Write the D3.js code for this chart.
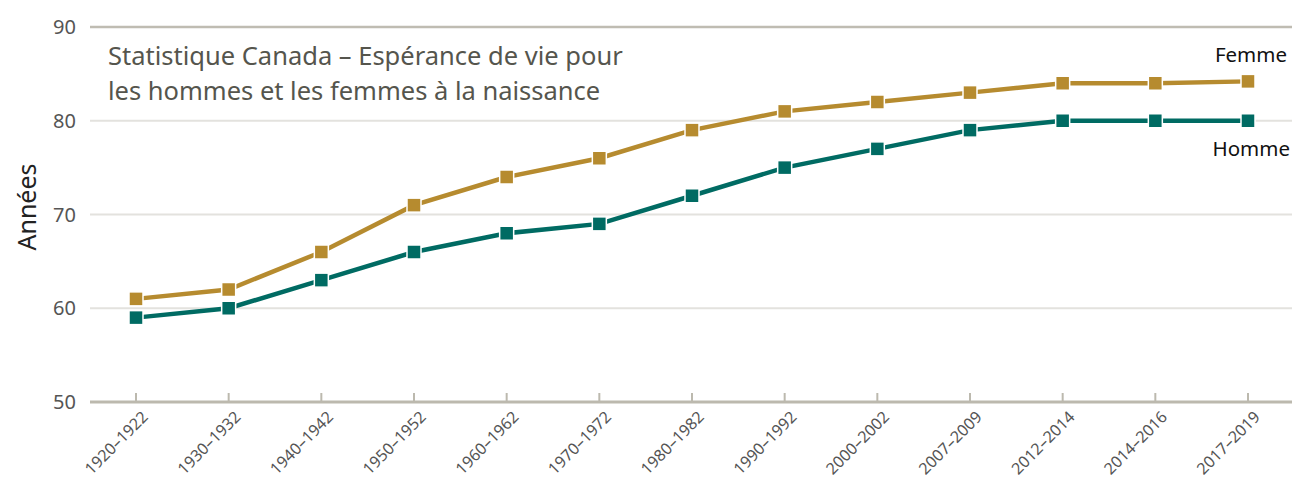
<!DOCTYPE html>
<html>
<head>
<meta charset="utf-8">
<script src="https://cdn.jsdelivr.net/npm/d3@7"></script>
<style>
  body { margin: 0; background: #fff; }
  text { font-family: "Noto Sans", "Open Sans", sans-serif; }
</style>
</head>
<body>
<div id="container"></div>
<script>
// données
const periodes = ["1920–1922", "1930–1932", "1940–1942", "1950–1952", "1960–1962", "1970–1972",
  "1980–1982", "1990–1992", "2000–2002", "2007–2009", "2012–2014", "2014–2016", "2017–2019"]
const femmes = [61, 62, 66, 71, 74, 76, 79, 81, 82, 83, 84, 84, 84.2]
const hommes = [59, 60, 63, 66, 68, 69, 72, 75, 77, 79, 80, 80, 80]
const yTicks = [50, 60, 70, 80, 90]

const width = 1292
const height = 485
const margeG = 90, margeD = 1292, margeH = 27, margeB = 402

const x = d3.scalePoint().domain(periodes).range([136, 1248])
const y = d3.scaleLinear().domain([50, 90]).range([margeB, margeH])

const svg = d3.create("svg")
  .attr("width", width)
  .attr("height", height)
  .attr("viewBox", [0, 0, width, height])

// grille
svg.append("g")
  .selectAll("line")
  .data(yTicks.filter(d => d !== 50))
  .join("line")
    .attr("x1", margeG).attr("x2", margeD)
    .attr("y1", d => y(d)).attr("y2", d => y(d))
    .attr("stroke", d => d === 90 ? "#bfbcb2" : "#e3e2de")
    .attr("stroke-width", d => d === 90 ? 2.5 : 2)

// axe y (étiquettes)
svg.append("g")
  .selectAll("text")
  .data(yTicks)
  .join("text")
    .attr("x", 76)
    .attr("y", d => y(d))
    .attr("dy", "0.35em")
    .attr("text-anchor", "end")
    .attr("fill", "#555")
    .style("font-size", "20px")
    .text(d => d)

// axe x
const xAxis = svg.append("g").attr("transform", `translate(0,${margeB})`)
xAxis.append("line")
  .attr("x1", margeG).attr("x2", margeD)
  .attr("stroke", "#bcb9ae").attr("stroke-width", 3)
xAxis.selectAll(".tick")
  .data(periodes)
  .join("line")
    .attr("class", "tick")
    .attr("x1", d => x(d)).attr("x2", d => x(d))
    .attr("y1", 0).attr("y2", -9)
    .attr("stroke", "#bcb9ae").attr("stroke-width", 2)
xAxis.selectAll("text")
  .data(periodes)
  .join("text")
    .attr("transform", d => `translate(${x(d) + 9},${12}) rotate(-45)`)
    .attr("text-anchor", "end")
    .attr("dy", "0.35em")
    .attr("fill", "#555")
    .style("font-size", "16px")
    .text(d => d)

// titre de l'axe
svg.append("text")
  .attr("transform", `translate(36,207) rotate(-90)`)
  .attr("text-anchor", "middle")
  .attr("fill", "#222")
  .style("font-size", "25px")
  .text("Années")

// titre
const titre = svg.append("text")
  .attr("x", 108)
  .attr("fill", "#55554d")
  .style("font-size", "25.5px")
titre.append("tspan").attr("x", 108).attr("y", 65).text("Statistique Canada – Espérance de vie pour")
titre.append("tspan").attr("x", 108).attr("y", 100).text("les hommes et les femmes à la naissance")

const series = [
  { nom: "Femme", valeurs: femmes, couleur: "#b68b2f" },
  { nom: "Homme", valeurs: hommes, couleur: "#006b63" }
]

const line = d3.line()
  .x((d, i) => x(periodes[i]))
  .y(d => y(d))

series.forEach(s => {
  const g = svg.append("g")
  g.append("path")
    .datum(s.valeurs)
    .attr("d", line)
    .attr("fill", "none")
    .attr("stroke", s.couleur)
    .attr("stroke-width", 4.5)
  g.selectAll("rect")
    .data(s.valeurs)
    .join("rect")
      .attr("x", (d, i) => x(periodes[i]) - 7)
      .attr("y", d => y(d) - 7)
      .attr("width", 14).attr("height", 14)
      .attr("fill", s.couleur)
      .attr("stroke", "#fff")
      .attr("stroke-width", 1.5)
})

// étiquettes des séries
svg.append("text")
  .attr("x", 1287).attr("y", 62)
  .attr("text-anchor", "end")
  .attr("fill", "#111")
  .style("font-size", "20.5px")
  .text("Femme")
svg.append("text")
  .attr("x", 1290).attr("y", 156)
  .attr("text-anchor", "end")
  .attr("fill", "#111")
  .style("font-size", "20.5px")
  .text("Homme")

document.getElementById("container").append(svg.node())
</script>
</body>
</html>
